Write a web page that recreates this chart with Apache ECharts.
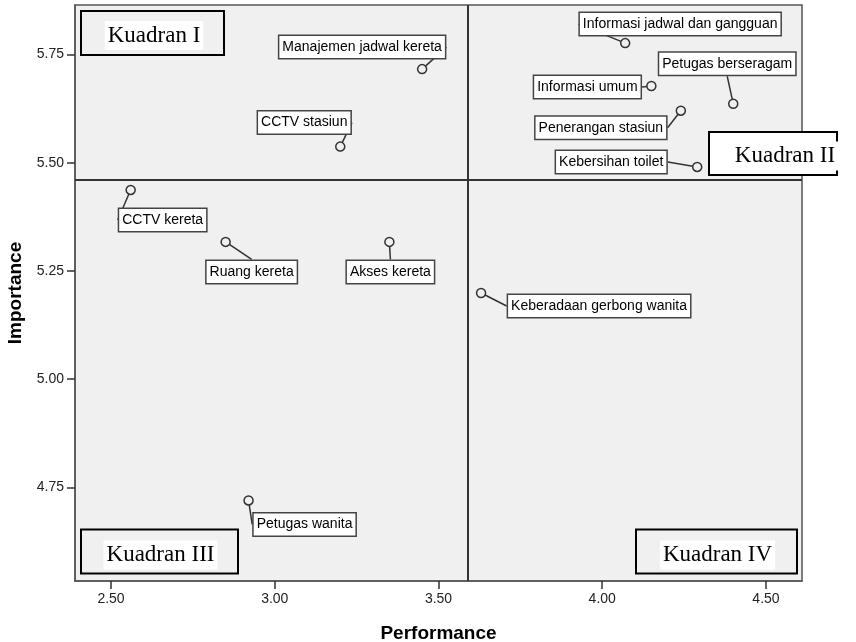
<!DOCTYPE html>
<html>
<head>
<meta charset="utf-8">
<script src="https://cdn.jsdelivr.net/npm/echarts@6/dist/echarts.min.js"></script>
<style>html,body{margin:0;padding:0;background:#fff}#c{width:856px;height:642px}</style>
</head>
<body>
<div id="c"></div>
<script>
// ---- data ----
const attributes = [
  'Manajemen jadwal kereta', 'CCTV stasiun', 'CCTV kereta', 'Ruang kereta', 'Akses kereta',
  'Petugas wanita', 'Keberadaan gerbong wanita', 'Informasi jadwal dan gangguan', 'Informasi umum',
  'Petugas berseragam', 'Penerangan stasiun', 'Kebersihan toilet'
];
const performance = [3.45, 3.20, 2.56, 2.85, 3.35, 2.92, 3.63, 4.07, 4.15, 4.40, 4.24, 4.29];
const importance  = [5.716, 5.537, 5.437, 5.317, 5.317, 4.72, 5.199, 5.776, 5.677, 5.636, 5.62, 5.49];
const xTicks = [2.50, 3.00, 3.50, 4.00, 4.50];
const yTicks = [4.75, 5.00, 5.25, 5.50, 5.75];
const meanPerformance = 3.594;
const meanImportance = 5.455;
const quadrantNames = ['Kuadran I', 'Kuadran II', 'Kuadran III', 'Kuadran IV'];

// ---- label offsets (pixels, layout only) ----
const labelOffsets = [
  [-60, -22], [-36, -24], [32, 30], [26, 30], [1, 30],
  [56, 24], [118, 13], [55, -19], [-64, 1],
  [-6, -40], [-80, 17], [-86, -5]
];

const chart = echarts.init(document.getElementById('c'), null, {renderer: 'canvas'});
const points = performance.map((p, i) => ({value: [p, importance[i]], name: attributes[i]}));
const font = '"Liberation Sans", Arial, sans-serif';
const serif = '"Liberation Serif", "Times New Roman", serif';

function quadBox(x, y, w, h, text, tx, ty, fill) {
  return [
    {type: 'rect', shape: {x: x, y: y, width: w, height: h}, style: {fill: fill, stroke: '#000', lineWidth: 2}, z: 100},
    {type: 'text', x: tx, y: ty, style: {text: text, font: '23px ' + serif, fill: '#000', align: 'center', verticalAlign: 'middle', backgroundColor: '#fff', padding: [3, 3]}, z: 101}
  ];
}

chart.setOption({
  animation: false,
  grid: {left: 75, top: 5, right: 54, bottom: 61, containLabel: false, outerBoundsMode: 'none',
         show: true, backgroundColor: '#f0f0f0', borderColor: '#555', borderWidth: 1.5},
  xAxis: {
    type: 'value', min: 2.39, max: 4.61,
    name: 'Performance', nameLocation: 'middle', nameGap: 43,
    nameTextStyle: {fontFamily: font, fontWeight: 'bold', fontSize: 19, color: '#000'},
    axisLine: {show: true, lineStyle: {color: '#555', width: 1.5}},
    axisTick: {show: true, length: 8, customValues: xTicks, lineStyle: {color: '#333', width: 1.5}},
    axisLabel: {customValues: xTicks, formatter: v => v.toFixed(2), fontFamily: font, fontSize: 14, color: '#222', margin: 11},
    splitLine: {show: false}
  },
  yAxis: {
    type: 'value', min: 4.534, max: 5.864,
    name: 'Importance', nameLocation: 'middle', nameGap: 50,
    nameTextStyle: {fontFamily: font, fontWeight: 'bold', fontSize: 19, color: '#000'},
    axisLine: {show: true, lineStyle: {color: '#555', width: 1.5}},
    axisTick: {show: true, length: 8, customValues: yTicks, lineStyle: {color: '#333', width: 1.5}},
    axisLabel: {customValues: yTicks, formatter: v => v.toFixed(2), fontFamily: font, fontSize: 14, color: '#222', margin: 11},
    splitLine: {show: false}
  },
  series: [{
    type: 'scatter',
    data: points,
    symbol: 'circle',
    symbolSize: 9,
    itemStyle: {color: '#f0f0f0', borderColor: '#333', borderWidth: 1.5, opacity: 1},
    label: {
      show: true, position: 'inside', formatter: p => p.name,
      fontFamily: font, fontSize: 14, color: '#000',
      backgroundColor: '#fff', borderColor: '#444', borderWidth: 1.5, padding: [4, 3, 4, 3]
    },
    labelLine: {show: true, lineStyle: {color: '#333', width: 1.5}},
    labelLayout: p => ({dx: labelOffsets[p.dataIndex][0], dy: labelOffsets[p.dataIndex][1]}),
    emphasis: {disabled: true},
    markLine: {
      silent: true, symbol: 'none', label: {show: false},
      lineStyle: {color: '#333', width: 2, type: 'solid'},
      data: [{xAxis: meanPerformance}, {yAxis: meanImportance}]
    },
    z: 5
  }],
  graphic: [
    ...quadBox(81, 11, 143, 44, quadrantNames[0], 154, 35.5, 'transparent'),
    ...quadBox(709, 132, 128, 43, quadrantNames[1], 785, 156, '#fff'),
    ...quadBox(81, 529.5, 157, 44, quadrantNames[2], 160.5, 555, 'transparent'),
    ...quadBox(636, 529.5, 161, 44, quadrantNames[3], 717.5, 555, 'transparent')
  ]
});
</script>
</body>
</html>
